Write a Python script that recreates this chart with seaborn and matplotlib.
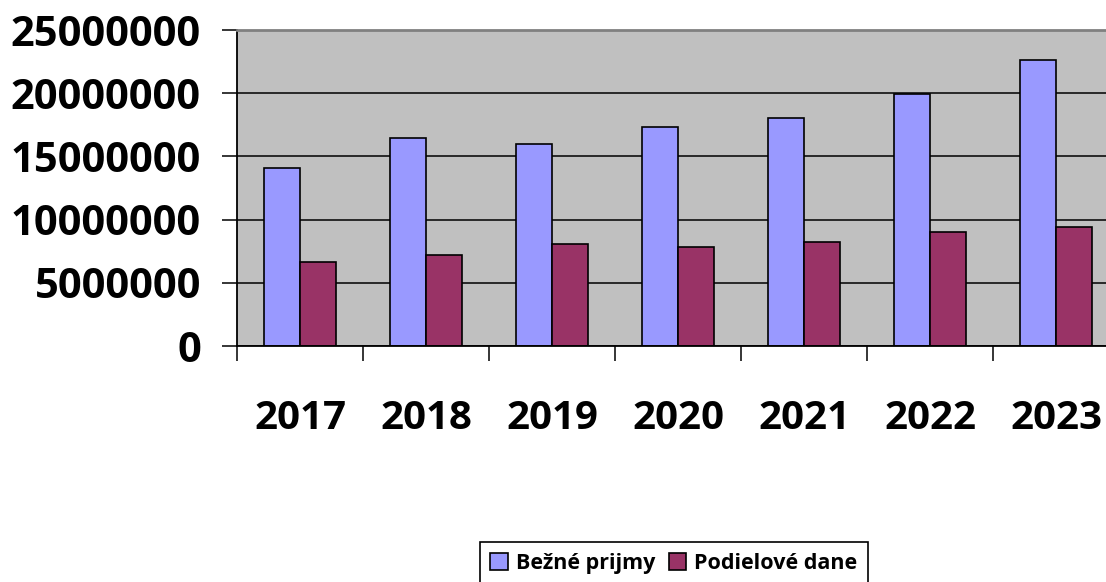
import matplotlib
matplotlib.use("Agg")
import matplotlib.pyplot as plt
import seaborn as sns
import pandas as pd
from matplotlib.ticker import FixedLocator

# Values
years = ['2017', '2018', '2019', '2020', '2021', '2022', '2023']
bezne_prijmy = [14060000, 16430000, 15960000, 17350000, 18010000, 19910000, 22630000]
podielove_dane = [6620000, 7220000, 8070000, 7860000, 8230000, 9020000, 9440000]
series = ['Bežné prijmy', 'Podielové dane']
y_ticks = [0, 5000000, 10000000, 15000000, 20000000, 25000000]

df = pd.DataFrame({
    'Rok': years * 2,
    'Hodnota': bezne_prijmy + podielove_dane,
    'Typ': [series[0]] * len(years) + [series[1]] * len(years),
})

sns.set_theme(style="white")
plt.rcParams['font.family'] = ['Open Sans', 'DejaVu Sans']
plt.rcParams['font.weight'] = 'bold'
plt.rcParams['text.color'] = 'black'

fig = plt.figure(figsize=(11.06, 5.82), dpi=100)
# plot area runs a little past the right edge, like the source image
ax = fig.add_axes([237 / 1106, 1 - 346 / 582, 882 / 1106, 316 / 582])
ax.set_facecolor('#C0C0C0')

sns.barplot(data=df, x='Rok', y='Hodnota', hue='Typ', order=years, hue_order=series,
            palette=['#9999FF', '#993366'], saturation=1, width=0.57, gap=0,
            edgecolor='black', linewidth=1.2, ax=ax)

handles, labels = ax.get_legend_handles_labels()
ax.get_legend().remove()

ax.set_xlim(-0.5, len(years) - 0.5)
ax.set_ylim(0, 25000000)
ax.set_yticks(y_ticks)
ax.set_yticklabels([str(v) for v in y_ticks])
ax.yaxis.grid(True, color='black', linewidth=1.1)
ax.xaxis.grid(False)
ax.set_axisbelow(True)

ax.set_xlabel('')
ax.set_ylabel('')

# category boundaries carry the tick marks, labels sit in between
ax.xaxis.set_minor_locator(FixedLocator([i - 0.5 for i in range(len(years) + 1)]))
ax.tick_params(axis='x', which='major', length=0, pad=38, labelsize=29)
ax.tick_params(axis='x', which='minor', length=10.5, width=1.1, color='black',
               direction='out', bottom=True)
ax.tick_params(axis='y', which='major', length=11, width=1.1, color='black',
               direction='out', left=True, pad=15, labelsize=30)
for lab in ax.get_xticklabels() + ax.get_yticklabels():
    lab.set_fontweight('bold')
    lab.set_color('black')

for side in ['left', 'bottom']:
    ax.spines[side].set_color('black')
    ax.spines[side].set_linewidth(1.3)
ax.spines['top'].set_color('#808080')
ax.spines['top'].set_linewidth(2)
ax.spines['right'].set_visible(False)

leg = fig.legend(handles, labels, loc='upper center', bbox_to_anchor=(674 / 1106, 1 - 542 / 582),
                 ncol=2, frameon=True, fancybox=False, edgecolor='black', framealpha=1,
                 handlelength=0.8, handleheight=0.8, handletextpad=0.4, columnspacing=0.6,
                 borderpad=0.5, borderaxespad=0, prop={'weight': 'bold', 'size': 15.5})
leg.get_frame().set_linewidth(1.2)
for t in leg.get_texts():
    t.set_color('black')
for h in leg.legend_handles:
    h.set_edgecolor('black')
    h.set_linewidth(1.2)

fig.savefig('out.png', dpi=100)
